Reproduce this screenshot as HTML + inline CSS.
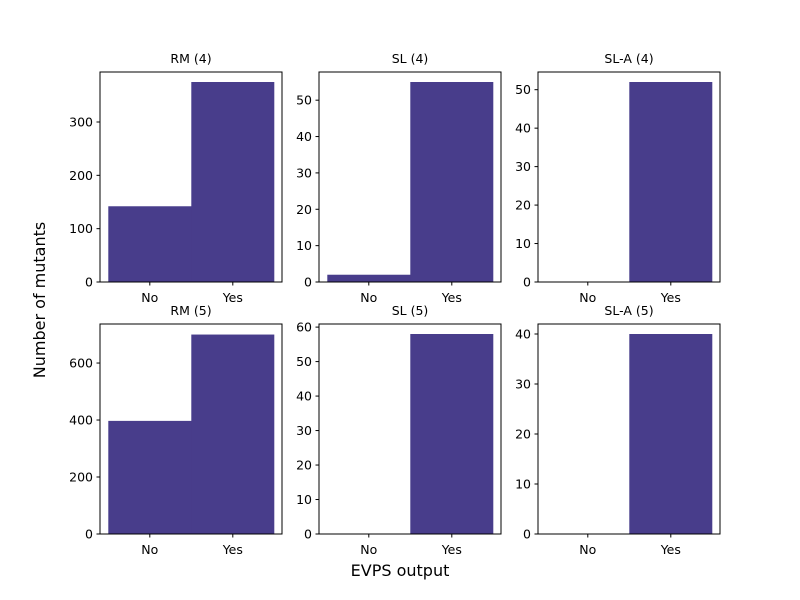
<!DOCTYPE html>
<html><head><meta charset="utf-8"><style>body{margin:0;background:#fff}svg{display:block}text{font-family:"DejaVu Sans","Liberation Sans",sans-serif;fill:#000}</style></head>
<body>
<svg id="s" width="800" height="600" xmlns="http://www.w3.org/2000/svg"></svg>
<script>
const s=document.getElementById('s');let h='';
const cols=[100,319,538],W=182,rows=[[72,282],[324,534]];
const panels=[
 ['RM (4)',0,0,393.75,[142,375],[0,100,200,300]],
 ['SL (4)',1,0,57.75,[2,55],[0,10,20,30,40,50]],
 ['SL-A (4)',2,0,54.6,[0,52],[0,10,20,30,40,50]],
 ['RM (5)',0,1,737,[397,700],[0,200,400,600]],
 ['SL (5)',1,1,60.9,[0,58],[0,10,20,30,40,50,60]],
 ['SL-A (5)',2,1,42,[0,40],[0,10,20,30,40]]];
for(const [t,c,r,max,v,ticks] of panels){
 const x0=cols[c],y0=rows[r][0],y1=rows[r][1],H=y1-y0;
 const Y=val=>y1-val/max*H;
 const bw=83,bx=[x0+8.3,x0+8.3+bw];
 v.forEach((val,i)=>{if(val>0)h+=`<rect x="${bx[i]}" y="${Y(val)}" width="${bw+(i==0?0.6:0)}" height="${y1-Y(val)}" fill="#483d8b"/>`;});
 h+=`<rect x="${x0}" y="${y0}" width="${W}" height="${H}" fill="none" stroke="#000" stroke-width="1"/>`;
 for(const tk of ticks){const y=Y(tk);h+=`<line x1="${x0-3.5}" x2="${x0}" y1="${y}" y2="${y}" stroke="#000"/><text x="${x0-7}" y="${y+4.5}" font-size="12.5" text-anchor="end">${tk}</text>`;}
 ['No','Yes'].forEach((l,i)=>{const x=bx[i]+bw/2;h+=`<line x1="${x}" x2="${x}" y1="${y1}" y2="${y1+3.5}" stroke="#000"/><text x="${x}" y="${y1+20}" font-size="12.5" text-anchor="middle">${l}</text>`;});
 h+=`<text x="${x0+W/2}" y="${y0-9}" font-size="12.5" text-anchor="middle">${t}</text>`;
}
h+=`<text x="400" y="576" font-size="16" text-anchor="middle">EVPS output</text>`;
h+=`<text transform="translate(45,300) rotate(-90)" font-size="16" text-anchor="middle">Number of mutants</text>`;
s.innerHTML=h;
</script>
</body></html>
